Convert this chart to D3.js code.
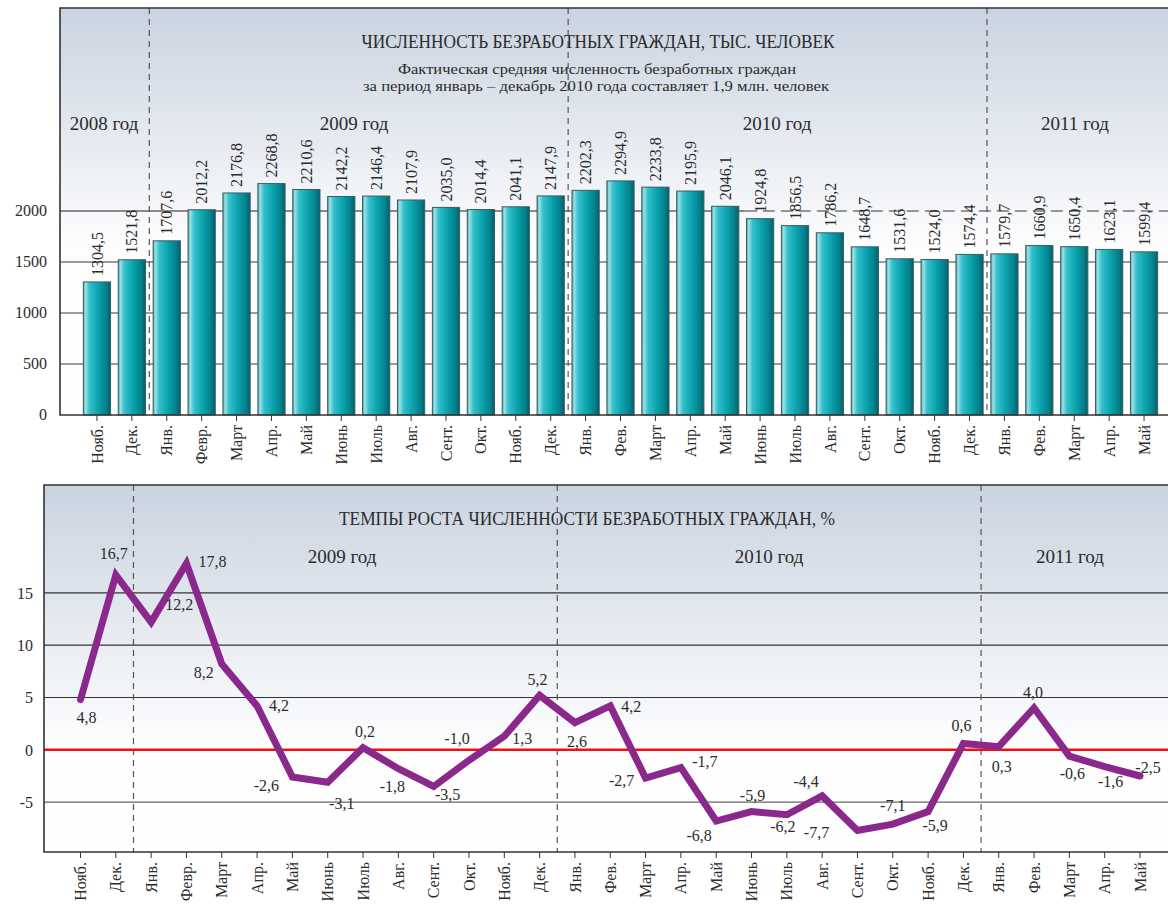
<!DOCTYPE html>
<html>
<head>
<meta charset="utf-8">
<script src="https://cdn.jsdelivr.net/npm/d3@7"></script>
<style>
  body { margin: 0; background: #fff; }
  svg text { font-family: "Liberation Serif", "Times New Roman", serif; fill: #2b2b2b; }
</style>
</head>
<body>
<div class="wrapper"></div>
<script>
// months, Nov 2008 .. May 2011
var months = ["Нояб.", "Дек.",
  "Янв.", "Февр.", "Март", "Апр.", "Май", "Июнь", "Июль", "Авг.", "Сент.", "Окт.", "Нояб.", "Дек.",
  "Янв.", "Фев.", "Март", "Апр.", "Май", "Июнь", "Июль", "Авг.", "Сент.", "Окт.", "Нояб.", "Дек.",
  "Янв.", "Фев.", "Март", "Апр.", "Май"];

// unemployed, thousand people
var unemployed = [1304.5, 1521.8,
  1707.6, 2012.2, 2176.8, 2268.8, 2210.6, 2142.2, 2146.4, 2107.9, 2035.0, 2014.4, 2041.1, 2147.9,
  2202.3, 2294.9, 2233.8, 2195.9, 2046.1, 1924.8, 1856.5, 1786.2, 1648.7, 1531.6, 1524.0, 1574.4,
  1579.7, 1660.9, 1650.4, 1623.1, 1599.4];

// growth rate, %
var growth = [4.8, 16.7,
  12.2, 17.8, 8.2, 4.2, -2.6, -3.1, 0.2, -1.8, -3.5, -1.0, 1.3, 5.2,
  2.6, 4.2, -2.7, -1.7, -6.8, -5.9, -6.2, -4.4, -7.7, -7.1, -5.9, 0.6,
  0.3, 4.0, -0.6, -1.6, -2.5];

// year groups: label and first month index
var yearNames = ["2008 год", "2009 год", "2010 год", "2011 год"];
var yearStart = [0, 2, 14, 26];

var barTicks = [0, 500, 1000, 1500, 2000];
var rateTicks = [-5, 0, 5, 10, 15];

var W = 1168, H = 907;

// label placement around line points (layout only)
var rateLabelOffset = [
  [6, 18], [-2, -22], [28, -18], [26, -2], [-18, 8], [22, 0], [-26, 8], [14, 21], [2, -16], [-6, 18],
  [14, 8], [-12, -22], [18, 2], [-2, -16], [2, 19], [21, 1], [-24, 2], [24, -6], [-17, 14], [1, -16],
  [-4, 12], [-16, -14], [-41, 2], [0, -19], [7, 14], [-2, -18], [3, 20], [-1, -16], [3, 17], [6, 15],
  [8, -9]
];

var fmt = function(v) { return v.toFixed(1).replace(".", ","); };

var svg = d3.select(".wrapper")
  .append("svg")
    .attr("width", W)
    .attr("height", H);

var defs = svg.append("defs");

function panelGradient(id, stopWhite) {
  var g = defs.append("linearGradient")
    .attr("id", id)
    .attr("x1", 0).attr("y1", 0).attr("x2", 0).attr("y2", 1);
  g.append("stop").attr("offset", "0%").attr("stop-color", "#c9d3e0");
  g.append("stop").attr("offset", stopWhite).attr("stop-color", "#fdfdfe");
  g.append("stop").attr("offset", "100%").attr("stop-color", "#ffffff");
}
panelGradient("bgTop", "58%");
panelGradient("bgBot", "70%");

var barGrad = defs.append("linearGradient")
  .attr("id", "barGrad")
  .attr("x1", 0).attr("y1", 0).attr("x2", 1).attr("y2", 0);
[["0%", "#3ea9b3"], ["8%", "#9fe0e6"], ["22%", "#34c2cc"], ["55%", "#0aa2ad"], ["85%", "#047f8a"], ["100%", "#035f69"]]
  .forEach(function(s) { barGrad.append("stop").attr("offset", s[0]).attr("stop-color", s[1]); });

// ---------- top chart: bars ----------
var upper = { left: 60, top: 8, bottom: 415 };

var xBar = d3.scaleBand()
  .domain(d3.range(months.length))
  .range([79.5, 1161.5])
  .paddingInner(0.22)
  .paddingOuter(0.11);

var yBar = d3.scaleLinear()
  .domain([0, 3990])
  .range([upper.bottom, upper.top]);

var g1 = svg.append("g").attr("class", "bars");

g1.append("rect")
  .attr("x", upper.left).attr("y", upper.top)
  .attr("width", W - upper.left).attr("height", upper.bottom - upper.top)
  .attr("fill", "url(#bgTop)");

// gridlines
g1.selectAll("line.grid")
  .data(barTicks.filter(function(d) { return d > 0 && d < 2000; }))
  .enter()
  .append("line")
    .attr("class", "grid")
    .attr("x1", upper.left).attr("x2", W)
    .attr("y1", function(d) { return yBar(d); })
    .attr("y2", function(d) { return yBar(d); })
    .attr("stroke", "#3a3a3a")
    .attr("stroke-width", 1.2);

var splitX = xBar(18) + xBar.bandwidth() + 6;
g1.append("line")
  .attr("x1", upper.left).attr("x2", splitX)
  .attr("y1", yBar(2000)).attr("y2", yBar(2000))
  .attr("stroke", "#666").attr("stroke-width", 1.5);
g1.append("line")
  .attr("x1", splitX).attr("x2", W)
  .attr("y1", yBar(2000)).attr("y2", yBar(2000))
  .attr("stroke", "#777").attr("stroke-width", 1.5)
  .attr("stroke-dasharray", "12,6");

// year separators
g1.selectAll("line.sep")
  .data(yearStart.slice(1))
  .enter()
  .append("line")
    .attr("class", "sep")
    .attr("x1", function(d) { return (xBar(d - 1) + xBar.bandwidth() + xBar(d)) / 2; })
    .attr("x2", function(d) { return (xBar(d - 1) + xBar.bandwidth() + xBar(d)) / 2; })
    .attr("y1", upper.top).attr("y2", upper.bottom)
    .attr("stroke", "#555")
    .attr("stroke-width", 1.2)
    .attr("stroke-dasharray", "6,5");

g1.selectAll("rect.bar")
  .data(unemployed)
  .enter()
  .append("rect")
    .attr("class", "bar")
    .attr("x", function(d, i) { return xBar(i); })
    .attr("y", function(d) { return yBar(d); })
    .attr("width", xBar.bandwidth())
    .attr("height", function(d) { return yBar(0) - yBar(d); })
    .attr("fill", "url(#barGrad)")
    .attr("stroke", "#3f5b62")
    .attr("stroke-width", 1);

g1.selectAll("text.val")
  .data(unemployed)
  .enter()
  .append("text")
    .attr("class", "val")
    .attr("transform", function(d, i) {
      return "translate(" + (xBar(i) + xBar.bandwidth() / 2) + "," + (yBar(d) - 6) + ") rotate(-90)";
    })
    .attr("dy", "0.35em")
    .attr("font-size", 16)
    .text(fmt);

// frame
g1.append("path")
  .attr("d", "M" + W + "," + upper.top + "H" + upper.left + "V" + upper.bottom + "H" + W)
  .attr("fill", "none")
  .attr("stroke", "#333")
  .attr("stroke-width", 1.6);

// y axis labels
g1.selectAll("text.ytick")
  .data(barTicks)
  .enter()
  .append("text")
    .attr("class", "ytick")
    .attr("x", 47)
    .attr("y", function(d) { return yBar(d) + 5; })
    .attr("text-anchor", "end")
    .attr("font-size", 16)
    .text(function(d) { return d; });

// x axis
g1.selectAll("line.xtick")
  .data(months)
  .enter()
  .append("line")
    .attr("class", "xtick")
    .attr("x1", function(d, i) { return xBar(i) + xBar.bandwidth() / 2; })
    .attr("x2", function(d, i) { return xBar(i) + xBar.bandwidth() / 2; })
    .attr("y1", upper.bottom).attr("y2", upper.bottom + 6)
    .attr("stroke", "#333");

g1.selectAll("text.xlab")
  .data(months)
  .enter()
  .append("text")
    .attr("class", "xlab")
    .attr("transform", function(d, i) {
      return "translate(" + (xBar(i) + xBar.bandwidth() / 2) + "," + (upper.bottom + 10) + ") rotate(-90)";
    })
    .attr("dy", "0.35em")
    .attr("text-anchor", "end")
    .attr("font-size", 16)
    .text(function(d) { return d; });

// titles
g1.append("text")
  .attr("x", 598).attr("y", 48)
  .attr("text-anchor", "middle")
  .attr("font-size", 18)
  .attr("textLength", 473).attr("lengthAdjust", "spacingAndGlyphs")
  .text("ЧИСЛЕННОСТЬ БЕЗРАБОТНЫХ ГРАЖДАН, ТЫС. ЧЕЛОВЕК");
g1.append("text")
  .attr("x", 597).attr("y", 74)
  .attr("text-anchor", "middle")
  .attr("font-size", 15)
  .attr("textLength", 398).attr("lengthAdjust", "spacingAndGlyphs")
  .text("Фактическая средняя численность безработных граждан");
g1.append("text")
  .attr("x", 596).attr("y", 91)
  .attr("text-anchor", "middle")
  .attr("font-size", 15)
  .attr("textLength", 466).attr("lengthAdjust", "spacingAndGlyphs")
  .text("за период январь – декабрь 2010 года составляет 1,9 млн. человек");

var topYearX = [104, 354, 777, 1075];
g1.selectAll("text.year")
  .data(yearNames)
  .enter()
  .append("text")
    .attr("class", "year")
    .attr("x", function(d, i) { return topYearX[i]; })
    .attr("y", 130)
    .attr("text-anchor", "middle")
    .attr("font-size", 19)
    .text(function(d) { return d; });

// ---------- bottom chart: growth line ----------
var lower = { left: 44, top: 485, bottom: 852 };

var xLine = d3.scalePoint()
  .domain(d3.range(months.length))
  .range([80.5, 1140]);

var yLine = d3.scaleLinear()
  .domain([-9.76, 25.3])
  .range([lower.bottom, lower.top]);

var g2 = svg.append("g").attr("class", "rates");

g2.append("rect")
  .attr("x", lower.left).attr("y", lower.top)
  .attr("width", W - lower.left).attr("height", lower.bottom - lower.top)
  .attr("fill", "url(#bgBot)");

g2.selectAll("line.grid")
  .data(rateTicks.filter(function(d) { return d !== 0; }))
  .enter()
  .append("line")
    .attr("class", "grid")
    .attr("x1", lower.left).attr("x2", W)
    .attr("y1", function(d) { return yLine(d); })
    .attr("y2", function(d) { return yLine(d); })
    .attr("stroke", function(d) { return d < 0 ? "#666" : "#333"; })
    .attr("stroke-width", 1.2);

g2.selectAll("line.sep")
  .data(yearStart.slice(1))
  .enter()
  .append("line")
    .attr("class", "sep")
    .attr("x1", function(d) { return (xLine(d - 1) + xLine(d)) / 2; })
    .attr("x2", function(d) { return (xLine(d - 1) + xLine(d)) / 2; })
    .attr("y1", lower.top).attr("y2", lower.bottom)
    .attr("stroke", "#555")
    .attr("stroke-width", 1.2)
    .attr("stroke-dasharray", "6,5");

g2.append("line")
  .attr("x1", lower.left).attr("x2", W)
  .attr("y1", yLine(0)).attr("y2", yLine(0))
  .attr("stroke", "#f01010")
  .attr("stroke-width", 2.5);

var line = d3.line()
  .x(function(d, i) { return xLine(i); })
  .y(function(d) { return yLine(d); });

g2.append("path")
  .datum(growth)
  .attr("d", line)
  .attr("fill", "none")
  .attr("stroke", "#8a288c")
  .attr("stroke-width", 7)
  .attr("stroke-linejoin", "miter")
  .attr("stroke-linecap", "round");

g2.selectAll("text.val")
  .data(growth)
  .enter()
  .append("text")
    .attr("class", "val")
    .attr("x", function(d, i) { return xLine(i) + rateLabelOffset[i][0]; })
    .attr("y", function(d, i) { return yLine(d) + rateLabelOffset[i][1]; })
    .attr("dy", "0.35em")
    .attr("text-anchor", "middle")
    .attr("font-size", 16)
    .text(fmt);

g2.append("path")
  .attr("d", "M" + W + "," + lower.top + "H" + lower.left + "V" + lower.bottom + "H" + W)
  .attr("fill", "none")
  .attr("stroke", "#333")
  .attr("stroke-width", 1.6);

g2.selectAll("text.ytick")
  .data(rateTicks)
  .enter()
  .append("text")
    .attr("class", "ytick")
    .attr("x", 33)
    .attr("y", function(d) { return yLine(d) + 6; })
    .attr("text-anchor", "end")
    .attr("font-size", 16)
    .text(function(d) { return d; });

g2.selectAll("line.xtick")
  .data(months)
  .enter()
  .append("line")
    .attr("class", "xtick")
    .attr("x1", function(d, i) { return xLine(i); })
    .attr("x2", function(d, i) { return xLine(i); })
    .attr("y1", lower.bottom).attr("y2", lower.bottom + 6)
    .attr("stroke", "#333");

g2.selectAll("text.xlab")
  .data(months)
  .enter()
  .append("text")
    .attr("class", "xlab")
    .attr("transform", function(d, i) {
      return "translate(" + xLine(i) + "," + (lower.bottom + 10) + ") rotate(-90)";
    })
    .attr("dy", "0.35em")
    .attr("text-anchor", "end")
    .attr("font-size", 16)
    .text(function(d) { return d; });

g2.append("text")
  .attr("x", 587).attr("y", 525)
  .attr("text-anchor", "middle")
  .attr("font-size", 18)
  .attr("textLength", 496).attr("lengthAdjust", "spacingAndGlyphs")
  .text("ТЕМПЫ РОСТА ЧИСЛЕННОСТИ БЕЗРАБОТНЫХ ГРАЖДАН, %");

var botYearX = [342, 769, 1070];
g2.selectAll("text.year")
  .data(yearNames.slice(1))
  .enter()
  .append("text")
    .attr("class", "year")
    .attr("x", function(d, i) { return botYearX[i]; })
    .attr("y", 563)
    .attr("text-anchor", "middle")
    .attr("font-size", 19)
    .text(function(d) { return d; });
</script>
</body>
</html>
